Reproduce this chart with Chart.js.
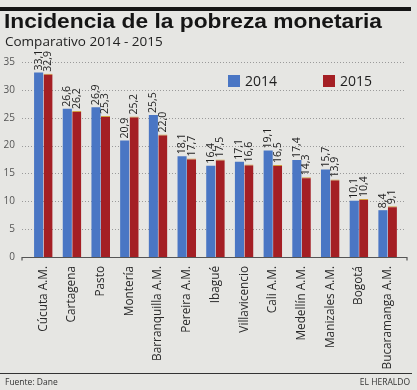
<!DOCTYPE html>
<html><head><meta charset="utf-8">
<script src="https://cdn.jsdelivr.net/npm/chart.js@4/dist/chart.umd.min.js"></script>
<style>
html,body{margin:0;padding:0;background:#e6e6e3;}
#wrap{position:relative;width:417px;height:390px;overflow:hidden;background:#e6e6e3;font-family:"Open Sans",sans-serif;}
#rule{position:absolute;left:0;top:7px;width:411px;height:3.5px;background:#151515;}
#title{position:absolute;left:4px;top:9px;font-family:"Liberation Sans",Arial,sans-serif;font-weight:700;font-size:20px;color:#151515;white-space:nowrap;line-height:24px;transform-origin:0 0;}
#sub{position:absolute;left:5px;top:32px;font-size:13.5px;color:#222;white-space:nowrap;line-height:18px;}
#foot{position:absolute;left:0;top:373px;width:412px;height:1px;background:#333;}
#src{position:absolute;left:5px;top:376px;font-size:8.5px;color:#333;line-height:12px;}
#brand{position:absolute;right:7px;top:376px;font-size:8.5px;color:#333;line-height:12px;}
canvas{position:absolute;left:0;top:0;}
</style></head>
<body>
<div id="wrap">
<canvas id="c" width="417" height="390"></canvas>
<div id="rule"></div>
<div id="title">Incidencia de la pobreza monetaria</div>
<div id="sub">Comparativo 2014 - 2015</div>
<div id="foot"></div>
<div id="src">Fuente: Dane</div>
<div id="brand">EL HERALDO</div>
</div>
<script>
const categories = ["Cúcuta A.M.","Cartagena","Pasto","Montería","Barranquilla A.M.","Pereira A.M.","Ibagué","Villavicencio","Cali A.M.","Medellín A.M.","Manizales A.M.","Bogotá","Bucaramanga A.M."];
const values2014 = [33.1,26.6,26.9,20.9,25.5,18.1,16.4,17.1,19.1,17.4,15.7,10.1,8.4];
const values2015 = [32.9,26.2,25.3,25.2,22.0,17.7,17.5,16.6,16.5,14.3,13.9,10.4,9.1];
const seriesLabels = ["2014","2015"];
const yMin = 0, yMax = 35, yStep = 5;

const BLUE = "#4a76c4", RED = "#a41f24";

const decorPlugin = {
  id: "decor",
  beforeDatasetsDraw(chart) {
    const ctx = chart.ctx, y = chart.scales.y;
    ctx.save();
    ctx.strokeStyle = "#9a9a9a";
    ctx.lineWidth = 1;
    ctx.setLineDash([1, 2]);
    y.ticks.forEach(t => {
      if (t.value === yMin) return;
      const py = Math.round(y.getPixelForValue(t.value)) + 0.5;
      ctx.beginPath(); ctx.moveTo(22, py); ctx.lineTo(406, py); ctx.stroke();
    });
    ctx.restore();
  },
  afterDatasetsDraw(chart) {
    const ctx = chart.ctx, y = chart.scales.y;
    ctx.save();
    const by = Math.round(y.getPixelForValue(yMin)) + 0.5;
    ctx.strokeStyle = "#555"; ctx.lineWidth = 1.2; ctx.setLineDash([]);
    ctx.beginPath(); ctx.moveTo(22, by + 3); ctx.lineTo(22, by); ctx.lineTo(407, by); ctx.lineTo(407, by + 3); ctx.stroke();
    ctx.fillStyle = "#1e1e1e";
    ctx.font = "10.5px 'Open Sans', sans-serif";
    ctx.textAlign = "left"; ctx.textBaseline = "middle";
    chart.data.datasets.forEach((ds, i) => {
      chart.getDatasetMeta(i).data.forEach((el, j) => {
        ctx.save();
        ctx.translate(el.x, el.y - 2);
        ctx.rotate(-Math.PI / 2);
        ctx.fillText(ds.data[j].toFixed(1).replace(".", ","), 0, 0);
        ctx.restore();
      });
    });
    const legendX = [228, 323];
    ctx.font = "14px 'Open Sans', sans-serif";
    ctx.textBaseline = "middle";
    chart.data.datasets.forEach((ds, i) => {
      const lx = legendX[i];
      ctx.fillStyle = ds.backgroundColor;
      ctx.fillRect(lx, 75, 12, 12);
      ctx.fillStyle = "#1e1e1e";
      ctx.fillText(ds.label, lx + 17, 82);
    });
    ctx.restore();
  }
};

new Chart(document.getElementById("c"), {
  type: "bar",
  data: {
    labels: categories,
    datasets: [
      { label: seriesLabels[0], data: values2014, backgroundColor: BLUE, borderWidth: 0 },
      { label: seriesLabels[1], data: values2015, backgroundColor: RED,
        borderColor: "#cfa040", borderWidth: {top: 1, left: 0, right: 0, bottom: 0}, borderSkipped: "bottom" }
    ]
  },
  options: {
    responsive: false,
    animation: false,
    layout: { padding: { top: 62, right: 15, left: 0, bottom: 0 } },
    datasets: { bar: { categoryPercentage: 0.66, barPercentage: 0.96 } },
    plugins: { legend: { display: false }, tooltip: { enabled: false }, title: { display: false } },
    scales: {
      x: {
        grid: { display: false, drawTicks: false },
        border: { display: false },
        ticks: { maxRotation: 90, minRotation: 90, autoSkip: false, padding: 9,
                 color: "#2a2a2a", font: { family: "'Open Sans', sans-serif", size: 11.8 } },
        afterFit(s) { s.height = 133; }
      },
      y: {
        min: yMin, max: yMax,
        grid: { display: false, drawTicks: false },
        border: { display: false },
        ticks: { stepSize: yStep, padding: 14, color: "#555",
                 font: { family: "'Open Sans', sans-serif", size: 10 } },
        afterFit(s) { s.width = 29; }
      }
    }
  },
  plugins: [decorPlugin]
});

const t = document.getElementById("title");
const w = t.getBoundingClientRect().width;
t.style.transform = "scaleX(" + (378 / w) + ")";
</script>
</body></html>
